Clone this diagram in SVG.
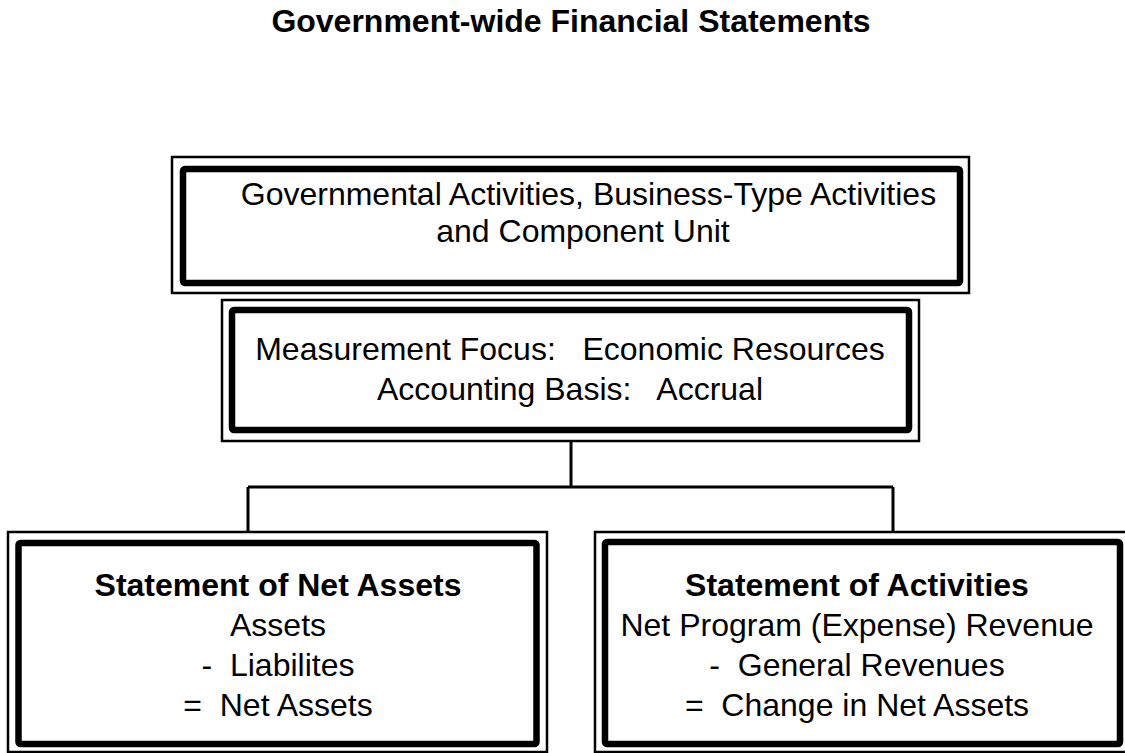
<svg xmlns="http://www.w3.org/2000/svg" width="1125" height="753" viewBox="0 0 1125 753">
<style>
.thin{fill:none;stroke:#000;stroke-width:2.5}
.thick{fill:none;stroke:#000;stroke-width:6.5;stroke-linejoin:round}
.conn{fill:none;stroke:#000;stroke-width:3}
text{font-family:"Liberation Sans",Arial,sans-serif;font-size:32px;fill:#000;text-anchor:middle;white-space:pre}
.b{font-weight:bold}
</style>
<rect width="1125" height="753" fill="#fff"/>
<text id="title" class="b" x="571" y="32">Government-wide Financial Statements</text>
<g id="connectors">
<path class="conn" d="M571 441 V487"/>
<path class="conn" d="M248 487 H893"/>
<path class="conn" d="M248 487 V532"/>
<path class="conn" d="M893 487 V532"/>
</g>
<g id="node-top">
<rect class="thin" x="172" y="157" width="797" height="136"/>
<rect class="thick" x="183" y="169" width="777" height="114" rx="2"/>
<text x="584" y="205" xml:space="preserve"> Governmental Activities, Business-Type Activities</text>
<text x="583" y="242">and Component Unit</text>
</g>
<g id="node-measurement">
<rect class="thin" x="222" y="300" width="697" height="141"/>
<rect class="thick" x="232" y="310" width="677" height="120" rx="2"/>
<text x="570" y="360" xml:space="preserve">Measurement Focus:   Economic Resources</text>
<text x="570" y="400" xml:space="preserve">Accounting Basis:   Accrual</text>
</g>
<g id="node-net-assets">
<rect class="thin" x="8" y="532" width="539" height="220"/>
<rect class="thick" x="18.5" y="543" width="518" height="201" rx="2"/>
<text class="b" x="278" y="596">Statement of Net Assets</text>
<text x="278" y="636">Assets</text>
<text x="278" y="676" xml:space="preserve">-  Liabilites</text>
<text x="278" y="716" xml:space="preserve">=  Net Assets</text>
</g>
<g id="node-activities">
<rect class="thin" x="595" y="532" width="540" height="220"/>
<rect class="thick" x="605" y="542" width="515" height="202" rx="2"/>
<text class="b" x="857" y="596">Statement of Activities</text>
<text x="857" y="636">Net Program (Expense) Revenue</text>
<text x="857" y="676" xml:space="preserve">-  General Revenues</text>
<text x="857" y="716" xml:space="preserve">=  Change in Net Assets</text>
</g>
</svg>
